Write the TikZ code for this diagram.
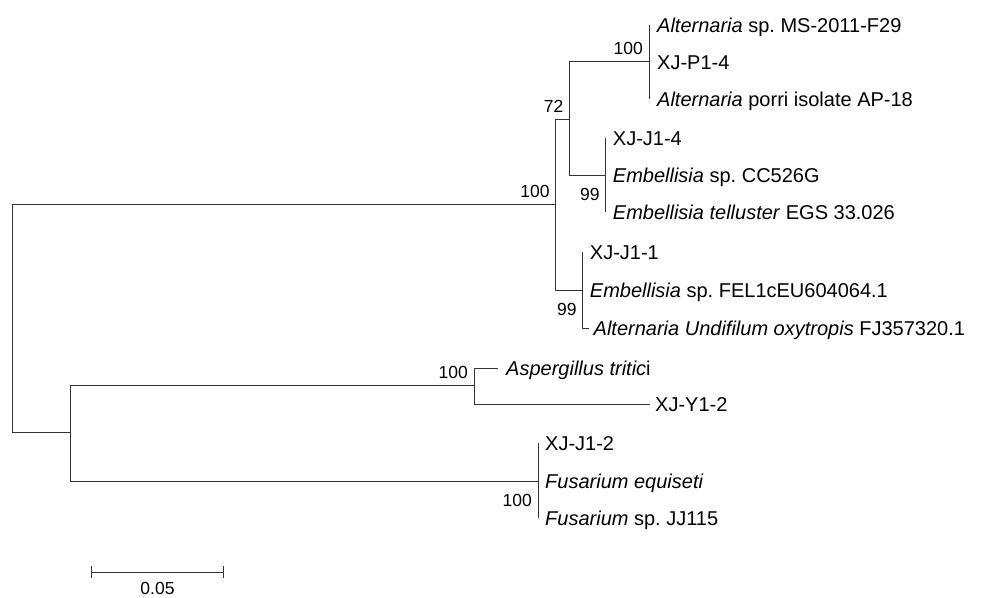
\documentclass[tikz,border=0pt]{standalone}
\usepackage{fontspec}
\setmainfont{Liberation Sans}
\frenchspacing
\usetikzlibrary{positioning, calc}

\begin{document}
\begin{tikzpicture}[
  x=1pt, y=-1pt,
  branch/.style={draw=black!80, line width=1pt},
  taxon/.style={anchor=west, inner sep=0pt, text height=14.3pt, text depth=0pt,
                font=\fontsize{20}{24}\selectfont},
  bsabove/.style={anchor=south east, inner sep=0pt, xshift=-6pt, yshift=6.5pt,
                  text height=12.5pt, text depth=0pt, font=\fontsize{17.5}{20}\selectfont},
  bsbelow/.style={anchor=north east, inner sep=0pt, xshift=-6pt, yshift=-12.5pt,
                  text height=12.5pt, text depth=0pt, font=\fontsize{17.5}{20}\selectfont}
]
  \useasboundingbox (0,0) rectangle (992,597);

  \coordinate (root) at (12,318);
  \coordinate (nA)   at (555.7,204.5);
  \coordinate (n72)  at (569.5,119);
  \coordinate (nAlt) at (649,61);
  \coordinate (nEmb) at (605.7,175);
  \coordinate (n99b) at (582.7,290);
  \coordinate (nB)   at (70.7,432);
  \coordinate (nAsp) at (474,385);
  \coordinate (nFus) at (538,481);

  \coordinate (tA1) at (649,25);
  \coordinate (tA2) at (649,62);
  \coordinate (tA3) at (649,99);
  \coordinate (tE1) at (605.7,138);
  \coordinate (tE2) at (605.7,175);
  \coordinate (tE3) at (605.7,212);
  \coordinate (tF1) at (582.7,252);
  \coordinate (tF2) at (582.7,290);
  \coordinate (tF3) at (588.5,328);
  \coordinate (tS1) at (498,368);
  \coordinate (tS2) at (650,404);
  \coordinate (tU1) at (538,443);
  \coordinate (tU2) at (538,481);
  \coordinate (tU3) at (538,518);

  \draw[branch] (root) |- (nA);
  \draw[branch] (root) |- (nB);
  \draw[branch] (nA) |- (n72);
  \draw[branch] (nA) |- (n99b);
  \draw[branch] (n72) |- (nAlt);
  \draw[branch] (n72) |- (nEmb);
  \draw[branch] (nAlt) -- (tA1);
  \draw[branch] (nAlt) -- (tA3);
  \draw[branch] (nEmb) -- (tE1);
  \draw[branch] (nEmb) -- (tE3);
  \draw[branch] (n99b) -- (tF1);
  \draw[branch] (n99b) |- (tF3);
  \draw[branch] (nB) |- (nAsp);
  \draw[branch] (nB) |- (nFus);
  \draw[branch] (nAsp) |- (tS1);
  \draw[branch] (nAsp) |- (tS2);
  \draw[branch] (nFus) -- (tU1);
  \draw[branch] (nFus) -- (tU3);

  \node[taxon, right=8pt of tA1] (lA1) {\textit{Alternaria} sp. MS-2011-F29};
  \node[taxon, right=8pt of tA2] (lA2) {XJ-P1-4};
  \node[taxon, right=8pt of tA3] (lA3) {\textit{Alternaria} porri isolate AP-18};
  \node[taxon, right=7pt of tE1] (lE1) {XJ-J1-4};
  \node[taxon, right=7pt of tE2] (lE2) {\textit{Embellisia} sp. CC526G};
  \node[taxon, right=7pt of tE3] (lE3) {\textit{Embellisia telluster} EGS 33.026};
  \node[taxon, right=7pt of tF1] (lF1) {XJ-J1-1};
  \node[taxon, right=7pt of tF2] (lF2) {\textit{Embellisia} sp. FEL1cEU604064.1};
  \node[taxon, right=5pt of tF3] (lF3) {\textit{Alternaria Undifilum oxytropis} FJ357320.1};
  \node[taxon, right=8pt of tS1] (lS1) {\textit{Aspergillus tritic}i};
  \node[taxon, right=5pt of tS2] (lS2) {XJ-Y1-2};
  \node[taxon, right=7pt of tU1] (lU1) {XJ-J1-2};
  \node[taxon, right=7pt of tU2] (lU2) {\textit{Fusarium equiseti}};
  \node[taxon, right=7pt of tU3] (lU3) {\textit{Fusarium} sp. JJ115};

  \node[bsabove] (bA)   at (nA)   {100};
  \node[bsabove] (b72)  at (n72)  {72};
  \node[bsabove] (bAlt) at (nAlt) {100};
  \node[bsbelow] (bEmb) at (nEmb) {99};
  \node[bsbelow] (b99b) at (n99b) {99};
  \node[bsabove] (bAsp) at (nAsp) {100};
  \node[bsbelow] (bFus) at (nFus) {100};

  \coordinate (sbL) at (91.7,572.3);
  \coordinate (sbR) at (223.3,572.3);
  \draw[branch] (sbL) -- (sbR);
  \draw[branch] ([yshift=6pt]sbL) -- ([yshift=-6pt]sbL);
  \draw[branch] ([yshift=6pt]sbR) -- ([yshift=-6pt]sbR);
  \coordinate (sbM) at ($(sbL)!0.5!(sbR)$);
  \node[anchor=north, inner sep=0pt, text height=12.5pt, text depth=0pt,
        font=\fontsize{17.5}{20}\selectfont, below=9.5pt of sbM] (sbT) {0.05};
\end{tikzpicture}
\end{document}
